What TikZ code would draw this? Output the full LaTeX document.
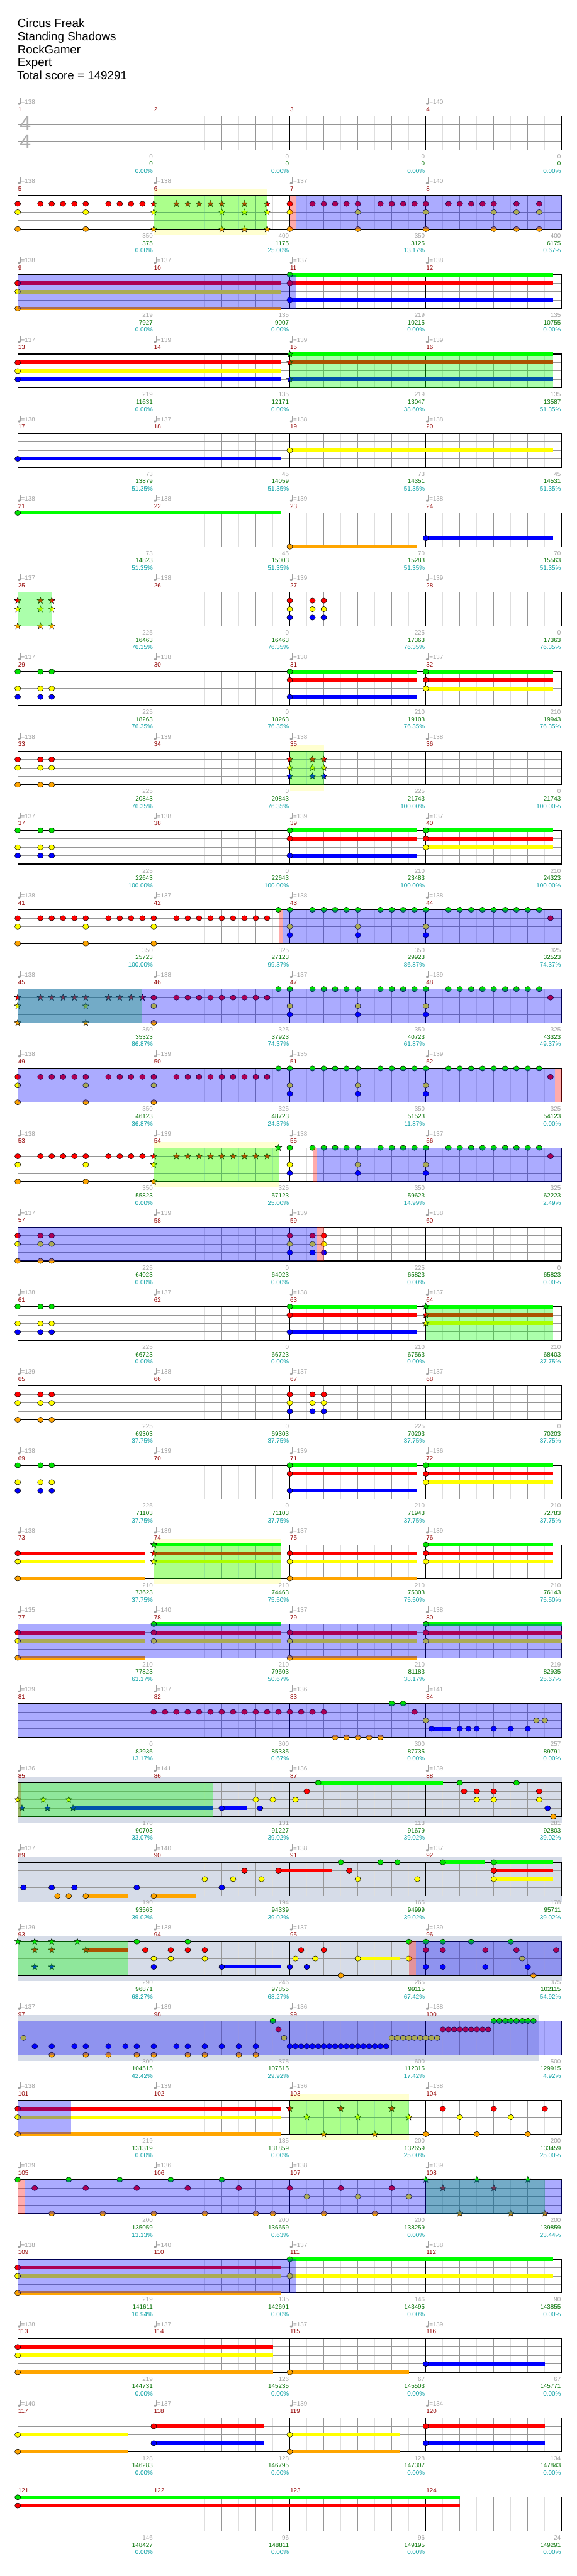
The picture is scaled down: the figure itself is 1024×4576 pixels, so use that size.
\documentclass[tikz,border=0pt]{standalone}
\usepackage{fontspec}
\setmainfont{Liberation Sans}
\usepackage{xcolor}
\usepackage{tikz}

\definecolor{gemG}{RGB}{0,225,0}
\definecolor{susG}{RGB}{0,255,0}
\definecolor{gemR}{RGB}{255,0,0}
\definecolor{gemY}{RGB}{255,255,0}
\definecolor{gemB}{RGB}{0,0,255}
\definecolor{gemO}{RGB}{255,165,0}
\definecolor{spGreen}{RGB}{0,255,0}
\definecolor{odBlue}{RGB}{0,0,255}
\definecolor{paleYel}{RGB}{255,255,208}
\definecolor{slate}{RGB}{214,220,232}
\definecolor{lblGray}{RGB}{160,160,160}
\definecolor{lblGreen}{RGB}{0,110,0}
\definecolor{lblTeal}{RGB}{0,155,160}
\definecolor{msrRed}{RGB}{145,0,0}
\definecolor{beatGray}{RGB}{150,150,150}
\definecolor{eighthGray}{RGB}{222,222,222}

% gems, star gems, sustains and shaded zones, all in beat/lane units of a row
\newcommand{\gems}[3]{\foreach \bt in {#3}{\filldraw[fill=#1, gem] (\bt,#2) ellipse[x radius=5.2pt, y radius=4.6pt];}}
\newcommand{\stars}[3]{\foreach \bt in {#3}{\filldraw[fill=#1, gem] (\bt,#2) +(90:6pt) -- +(126:2.6pt) -- +(162:6pt) -- +(198:2.6pt) -- +(234:6pt) -- +(270:2.6pt) -- +(306:6pt) -- +(342:2.6pt) -- +(18:6pt) -- +(54:2.6pt) -- cycle;}}
\newcommand{\sus}[3]{\foreach \s/\e in {#3}{\fill[#1] (\s,#2-0.22) rectangle (\e,#2+0.22);}}
\newcommand{\zone}[3]{\fill[#1] (#2,0) rectangle (#3,4);}
\newcommand{\band}[4]{\begin{scope}[rowat=#1]\fill[#2] (#3,-0.7) rectangle (#4,4.7);\end{scope}}

\begin{document}
\begin{tikzpicture}[x=1pt, y=-1pt,
  gem/.style={draw=black, line width=0.55pt},
  gridEighth/.style={draw=eighthGray, line width=0.9pt},
  gridBeat/.style={draw=beatGray, line width=0.9pt},
  msrLine/.style={draw=black, line width=0.9pt},
  staffFrame/.style={draw=black, line width=1.3pt},
  spz/.style={fill=spGreen, fill opacity=0.33},
  odz/.style={fill=odBlue, fill opacity=0.33},
  pnk/.style={fill=red, fill opacity=0.33},
  title/.style={font=\fontsize{21}{24}\selectfont, anchor=base west, inner sep=0pt},
  msr/.style={font=\fontsize{11}{13}\selectfont, text=msrRed, anchor=west, inner sep=0pt},
  tempo/.style={font=\fontsize{11}{13}\selectfont, text=lblGray, anchor=west, inner sep=0pt},
  pts/.style={font=\fontsize{11}{13}\selectfont, text=lblGray, anchor=east, inner sep=0pt},
  score/.style={font=\fontsize{11}{13}\selectfont, text=lblGreen, anchor=east, inner sep=0pt},
  pct/.style={font=\fontsize{11}{13}\selectfont, text=lblTeal, anchor=east, inner sep=0pt},
  rowat/.style={shift={(31.5pt,{-(206+141*(#1-1))*1pt})}, x=60.375pt, y=-15pt}]
\useasboundingbox (0,0) rectangle (1024,4576);
% ================= header =================
\node[title] (song) at (31,49) {Circus Freak};
\node[title] (artist) at (31,72) {Standing Shadows};
\node[title] (player) at (31,95) {RockGamer};
\node[title] (level) at (31,118) {Expert};
\node[title] (total) at (30,141) {Total score = 149291};
% ================= shaded bands =================
\band{2}{paleYel}{4}{7.333}
\band{9}{paleYel}{8}{9}
\band{14}{paleYel}{4}{7.667}
\band{19}{paleYel}{4}{7.74}
\band{22}{slate}{0}{16}
\band{23}{slate}{0}{16}
\band{24}{slate}{0}{16}
\band{25}{slate}{0}{15.31}
\band{26}{paleYel}{8}{11.5}
% ================= staves =================
\foreach \r in {1,...,31}{
\begin{scope}[rowat=\r]
\foreach \k in {0.5,1.5,...,15.5} \draw[gridEighth] (\k,0) -- (\k,4);
\foreach \k in {1,2,3,5,6,7,9,10,11,13,14,15} \draw[gridBeat] (\k,0) -- (\k,4);
\foreach \l in {1,2,3} \draw[gridBeat] (0,\l) -- (16,\l);
\foreach \k in {4,8,12} \draw[msrLine] (\k,0) -- (\k,4);
\draw[staffFrame] (0,0) rectangle (16,4);
\end{scope}}
\node[font=\fontsize{36}{36}\selectfont, text=black!32, inner sep=0pt] (ts-top) at (45,219.5) {4};
\node[font=\fontsize{36}{36}\selectfont, text=black!32, inner sep=0pt] (ts-bot) at (45,251.5) {4};
% ---- row 2: measures 5-8 ----
\begin{scope}[rowat=2]
\gems{gemR}{1}{0,0.667,1,1.333,1.667,2,2.667,3,3.333,3.667,8,8.667,9,9.333,9.667,10,10.667,11,11.333,11.667,12,12.667,13,13.333,13.667,14,14.667,15.333}
\gems{gemY}{2}{0,2,8,10,12,14,14.667,15.333}
\gems{gemO}{4}{0,2,8,10,12,14,14.667,15.333}
\stars{gemR}{1}{4,4.667,5,5.333,5.667,6,6.667,7.333}
\stars{gemY}{2}{4,6,6.667,7.333}
\stars{gemO}{4}{4,6,6.667,7.333}
\zone{spz}{4}{7.333} \zone{pnk}{8}{8.2} \zone{odz}{8.2}{16}
\end{scope}
% ---- row 3: measures 9-12 ----
\begin{scope}[rowat=3]
\sus{gemR}{1}{0/7.74,8/15.74} \sus{gemY}{2}{0/7.74} \sus{gemO}{4}{0/7.74}
\sus{susG}{0}{8/15.74} \sus{gemB}{3}{8/15.74}
\gems{gemR}{1}{0,8} \gems{gemY}{2}{0} \gems{gemO}{4}{0} \gems{gemG}{0}{8} \gems{gemB}{3}{8}
\zone{odz}{0}{8.2}
\end{scope}
% ---- row 4: measures 13-16 ----
\begin{scope}[rowat=4]
\sus{gemR}{1}{0/7.74,8/15.74} \sus{gemY}{2}{0/7.74} \sus{gemB}{3}{0/7.74,8/15.74} \sus{susG}{0}{8/15.74}
\gems{gemR}{1}{0} \gems{gemY}{2}{0} \gems{gemB}{3}{0}
\stars{gemG}{0}{8} \stars{gemR}{1}{8} \stars{gemB}{3}{8}
\zone{spz}{8}{15.74}
\end{scope}
% ---- row 5: measures 17-20 ----
\begin{scope}[rowat=5]
\sus{gemB}{3}{0/7.74} \sus{gemY}{2}{8/15.74}
\gems{gemB}{3}{0} \gems{gemY}{2}{8}
\end{scope}
% ---- row 6: measures 21-24 ----
\begin{scope}[rowat=6]
\sus{susG}{0}{0/7.74} \sus{gemO}{4}{8/11.74} \sus{gemB}{3}{12/15.74}
\gems{gemG}{0}{0} \gems{gemO}{4}{8} \gems{gemB}{3}{12}
\end{scope}
% ---- row 7: measures 25-28 ----
\begin{scope}[rowat=7]
\stars{gemR}{1}{0,0.667,1} \stars{gemY}{2}{0,0.667,1} \stars{gemO}{4}{0,0.667,1}
\gems{gemR}{1}{8,8.667,9} \gems{gemY}{2}{8,8.667,9} \gems{gemB}{3}{8,8.667,9}
\zone{spz}{0}{1}
\end{scope}
% ---- rows 8, 10, 18: same figure ----
\foreach \r in {8,10,18}{
\begin{scope}[rowat=\r]
\sus{susG}{0}{8/11.74,12/15.74} \sus{gemR}{1}{8/11.74,12/15.74} \sus{gemB}{3}{8/11.74} \sus{gemY}{2}{12/15.74}
\gems{gemG}{0}{0,0.667,1,8,12} \gems{gemY}{2}{0,0.667,1,12} \gems{gemB}{3}{0,0.667,1,8} \gems{gemR}{1}{8,12}
\end{scope}}
% ---- row 9: measures 33-36 ----
\begin{scope}[rowat=9]
\gems{gemR}{1}{0,0.667,1} \gems{gemY}{2}{0,0.667,1} \gems{gemO}{4}{0,0.667,1}
\stars{gemR}{1}{8,8.667,9} \stars{gemY}{2}{8,8.667,9} \stars{gemB}{3}{8,8.667,9}
\zone{spz}{8}{9}
\end{scope}
% ---- rows 11 and 13: measures 41-44, 49-52 ----
\foreach \r in {11,13}{
\begin{scope}[rowat=\r]
\gems{gemR}{1}{0,0.667,1,1.333,1.667,2,2.667,3,3.333,3.667,4,4.667,5,5.333,5.667,6,6.333,6.667,7,7.333,15.667}
\gems{gemY}{2}{0,2,4,8,10,12} \gems{gemO}{4}{0,2,4} \gems{gemB}{3}{8,10,12}
\gems{gemG}{0}{7.667,8,8.667,9,9.333,9.667,10,10.667,11,11.333,11.667,12,12.667,13,13.333,13.667,14,14.333,14.667,15,15.333}
\end{scope}}
\begin{scope}[rowat=11] \zone{pnk}{7.667}{7.8} \zone{odz}{7.8}{16} \end{scope}
\begin{scope}[rowat=13] \zone{odz}{0}{15.8} \zone{pnk}{15.8}{16} \end{scope}
% ---- row 12: measures 45-48 ----
\begin{scope}[rowat=12]
\stars{gemR}{1}{0,0.667,1,1.333,1.667,2,2.667,3,3.333,3.667} \stars{gemY}{2}{0,2} \stars{gemO}{4}{0,2}
\gems{gemR}{1}{4,4.667,5,5.333,5.667,6,6.333,6.667,7,7.333,15.667}
\gems{gemY}{2}{4,8,10,12} \gems{gemO}{4}{4} \gems{gemB}{3}{8,10,12}
\gems{gemG}{0}{7.667,8,8.667,9,9.333,9.667,10,10.667,11,11.333,11.667,12,12.667,13,13.333,13.667,14,14.333,14.667,15,15.333}
\zone{spz}{0}{3.667} \zone{odz}{0}{16}
\end{scope}
% ---- row 14: measures 53-56 ----
\begin{scope}[rowat=14]
\gems{gemR}{1}{0,0.667,1,1.333,1.667,2,2.667,3,3.333,3.667,15.667}
\gems{gemY}{2}{0,2,8,10,12} \gems{gemO}{4}{0,2} \gems{gemB}{3}{8,10,12}
\stars{gemR}{1}{4,4.667,5,5.333,5.667,6,6.333,6.667,7,7.333} \stars{gemY}{2}{4} \stars{gemO}{4}{4} \stars{gemG}{0}{7.667}
\gems{gemG}{0}{8,8.667,9,9.333,9.667,10,10.667,11,11.333,11.667,12,12.667,13,13.333,13.667,14,14.333,14.667,15,15.333}
\zone{spz}{4}{7.667} \zone{pnk}{8.667}{8.8} \zone{odz}{8.8}{16}
\end{scope}
% ---- row 15: measures 57-60 ----
\begin{scope}[rowat=15]
\gems{gemR}{1}{0,0.667,1,8,8.667,9} \gems{gemY}{2}{0,0.667,1,8,8.667,9}
\gems{gemO}{4}{0,0.667,1} \gems{gemB}{3}{8,8.667,9}
\zone{odz}{0}{8.78} \zone{pnk}{8.78}{9}
\end{scope}
% ---- row 16: measures 61-64 ----
\begin{scope}[rowat=16]
\sus{susG}{0}{8/11.74,12/15.74} \sus{gemR}{1}{8/11.74,12/15.74} \sus{gemB}{3}{8/11.74} \sus{gemY}{2}{12/15.74}
\gems{gemG}{0}{0,0.667,1,8} \gems{gemY}{2}{0,0.667,1} \gems{gemB}{3}{0,0.667,1,8} \gems{gemR}{1}{8}
\stars{gemG}{0}{12} \stars{gemR}{1}{12} \stars{gemY}{2}{12}
\zone{spz}{12}{15.74}
\end{scope}
% ---- row 17: measures 65-68 ----
\begin{scope}[rowat=17]
\gems{gemR}{1}{0,0.667,1,8,8.667,9} \gems{gemY}{2}{0,0.667,1,8,8.667,9}
\gems{gemO}{4}{0,0.667,1} \gems{gemB}{3}{8,8.667,9}
\end{scope}
% ---- row 19: measures 73-76 ----
\begin{scope}[rowat=19]
\sus{gemR}{1}{0/3.74,4/7.74,8/11.74,12/15.74} \sus{gemY}{2}{0/3.74,4/7.74,8/11.74,12/15.74}
\sus{gemO}{4}{0/3.74,8/11.74} \sus{susG}{0}{4/7.74,12/15.74}
\gems{gemR}{1}{0,8,12} \gems{gemY}{2}{0,8,12} \gems{gemO}{4}{0,8} \gems{gemG}{0}{12}
\stars{gemG}{0}{4} \stars{gemR}{1}{4} \stars{gemY}{2}{4}
\zone{spz}{4}{7.74}
\end{scope}
% ---- row 20: measures 77-80 ----
\begin{scope}[rowat=20]
\sus{gemR}{1}{0/3.74,4/7.74,8/11.74,12/16} \sus{gemY}{2}{0/3.74,4/7.74,8/11.74,12/16}
\sus{gemO}{4}{0/3.74,8/11.74} \sus{susG}{0}{4/7.74,12/16}
\gems{gemR}{1}{0,4,8,12} \gems{gemY}{2}{0,4,8,12} \gems{gemO}{4}{0,8} \gems{gemG}{0}{4,12}
\zone{odz}{0}{16}
\end{scope}
% ---- row 21: measures 81-84 ----
\begin{scope}[rowat=21]
\gems{gemR}{1}{4,4.3333,...,9.1} \gems{gemR}{1}{11.667}
\gems{gemO}{4}{9.333,9.667,10,10.333,10.667}
\gems{gemG}{0}{11,11.333}
\gems{gemY}{2}{12,15.25,15.5}
\sus{gemB}{3}{12.167/12.73}
\gems{gemB}{3}{12.167,13,13.25,13.5,14,14.5,15}
\zone{odz}{0}{16}
\end{scope}
% ---- row 22: measures 85-88 ----
\begin{scope}[rowat=22]
\sus{gemB}{3}{1.625/5.75,6/6.75} \sus{susG}{0}{8.833/12.5}
\stars{gemY}{2}{0,0.75,1.5} \stars{gemB}{3}{0.125,0.875,1.625}
\gems{gemB}{3}{6,7.125,15.583}
\gems{gemY}{2}{7,7.5,8.167,13.5,14,15.333}
\gems{gemR}{1}{8.5,13.125,13.5,14,15.333}
\gems{gemG}{0}{8.833,13,14.667}
\gems{gemO}{4}{15.75}
\zone{pnk}{0}{0.1} \zone{spz}{0}{5.75}
\end{scope}
% ---- row 23: measures 89-92 ----
\begin{scope}[rowat=23]
\sus{gemO}{4}{2/3.24,4/5.25} \sus{gemR}{1}{7.667/9.24,14/15.74}
\sus{susG}{0}{12.5/13.75,14/15.74} \sus{gemY}{2}{14/15.74}
\gems{gemB}{3}{0.167,1,1.667,3.5,6}
\gems{gemO}{4}{1.167,1.5,2,4}
\gems{gemY}{2}{5.5,6.333,7.167,10,11.75,14}
\gems{gemR}{1}{6.667,7.667,9.75,14}
\gems{gemG}{0}{9.5,10.667,11.167,12.5,14}
\end{scope}
% ---- row 24: measures 93-96 ----
\begin{scope}[rowat=24]
\sus{gemR}{1}{2/3.24} \sus{gemB}{3}{6/7.73} \sus{gemY}{2}{10/11.24}
\stars{gemG}{0}{0,0.5,1,1.75} \stars{gemR}{1}{0.5,1,2} \stars{gemB}{3}{0.5,1}
\gems{gemG}{0}{3.5,5,11.5,12,12.5,13.333,14.5}
\gems{gemR}{1}{3.75,4.5,5,5.5,8.333,9,12,12.5,13.75,14.667,15.833}
\gems{gemY}{2}{4,4.5,5.5,8.167,8.75,10,11.5,14.833}
\gems{gemB}{3}{4,6,8,8.5,12,12.5,13.75,15}
\gems{gemO}{4}{9.5,15.167}
\zone{spz}{0}{3.24} \zone{pnk}{11.5}{11.71} \zone{odz}{11.71}{16}
\end{scope}
% ---- row 25: measures 97-100 ----
\begin{scope}[rowat=25]
\gems{gemY}{2}{0.167,7.833} \gems{gemY}{2}{11,11.1667,...,12.4}
\gems{gemB}{3}{0.5,1,1.667,2,2.667,3.167,3.5,4,4.667,5,5.5,6,6.5,7} \gems{gemB}{3}{8,8.1667,...,10.9}
\gems{gemO}{4}{1,2,2.667,3.5,4,5,5.5,6.5,7}
\gems{gemG}{0}{7.5} \gems{gemG}{0}{14,14.1667,...,15.2}
\gems{gemR}{1}{7.667} \gems{gemR}{1}{12.5,12.6667,...,13.9}
\zone{odz}{0}{16}
\end{scope}
% ---- row 26: measures 101-104 ----
\begin{scope}[rowat=26]
\sus{gemR}{1}{0/7.74} \sus{gemY}{2}{0/7.74} \sus{gemO}{4}{0/7.74}
\gems{gemR}{1}{0,12.5,14,15.5} \gems{gemY}{2}{0,13,14.5} \gems{gemO}{4}{0,12,13.5,15}
\stars{gemR}{1}{8,9.5,11} \stars{gemY}{2}{8.5,10,11.5} \stars{gemO}{4}{9,10.5}
\zone{odz}{0}{1.56} \zone{spz}{8}{11.5}
\end{scope}
% ---- row 27: measures 105-108 ----
\begin{scope}[rowat=27]
\gems{gemG}{0}{0,1.5,3,4.5,6}
\gems{gemR}{1}{0.5,2,3.5,5,6.5,8,9.5,11}
\gems{gemO}{4}{1,2.5,4,5.5,7,7.5,9,10.5}
\gems{gemY}{2}{8.5,10,11.5}
\stars{gemG}{0}{12,13.5,15} \stars{gemR}{1}{12.5,14} \stars{gemO}{4}{13,14.5,15.5}
\zone{spz}{12}{15.5} \zone{pnk}{0}{0.2} \zone{odz}{0.2}{16}
\end{scope}
% ---- row 28: measures 109-112 ----
\begin{scope}[rowat=28]
\sus{gemR}{1}{0/7.74} \sus{gemY}{2}{0/7.74,8/15.74} \sus{gemO}{4}{0/7.74} \sus{susG}{0}{8/15.74}
\gems{gemR}{1}{0} \gems{gemY}{2}{0,8} \gems{gemO}{4}{0} \gems{gemG}{0}{8}
\zone{odz}{0}{8.2}
\end{scope}
% ---- row 29: measures 113-116 ----
\begin{scope}[rowat=29]
\sus{gemR}{1}{0/7.5} \sus{gemY}{2}{0/7.5} \sus{gemO}{4}{0/7.5,8/11.5} \sus{gemB}{3}{12/15.5}
\gems{gemR}{1}{0} \gems{gemY}{2}{0} \gems{gemO}{4}{0,8} \gems{gemB}{3}{12}
\end{scope}
% ---- row 30: measures 117-120 ----
\begin{scope}[rowat=30]
\sus{gemY}{2}{0/3.24,8/11.24} \sus{gemO}{4}{0/3.24,8/11.24}
\sus{gemR}{1}{4/7.25,12/15.5} \sus{gemB}{3}{4/7.25,12/15.5}
\gems{gemY}{2}{0,8} \gems{gemO}{4}{0,8} \gems{gemR}{1}{4,12} \gems{gemB}{3}{4,12}
\end{scope}
% ---- row 31: measures 121-124 ----
\begin{scope}[rowat=31]
\sus{susG}{0}{0/13} \sus{gemR}{1}{0/13}
\gems{gemG}{0}{0} \gems{gemR}{1}{0}
\end{scope}
% ================= measure numbers =================
\foreach \m in {1,...,124}{
  \pgfmathtruncatemacro\rr{div(\m-1,4)}
  \pgfmathtruncatemacro\cc{mod(\m-1,4)}
  \node[msr] (ms-\m) at ({32+\cc*241.5},{194+141*\rr}) {\m};}
% ================= tempo marks =================
\foreach \m/\t in {1/138,4/140,5/138,6/138,7/137,8/140,9/138,10/137,11/137,12/138,
  13/137,14/139,15/139,16/139,17/138,18/137,19/138,20/138,21/138,22/138,23/139,24/138,
  25/137,26/138,27/139,28/139,29/137,30/138,31/138,32/137,33/138,34/139,35/138,36/138,
  37/137,38/138,39/139,40/137,41/138,42/137,43/138,44/138,45/138,46/138,47/137,48/139,
  49/138,50/139,51/135,52/139,53/138,54/139,55/138,56/137,57/137,58/139,59/139,60/138,
  61/138,62/137,63/138,64/137,65/139,66/138,67/137,68/137,69/138,70/139,71/139,72/136,
  73/138,74/139,75/137,76/139,77/135,78/140,79/137,80/138,81/139,82/137,83/136,84/141,
  85/136,86/141,87/136,88/139,89/137,90/140,91/138,92/137,93/139,94/138,95/137,96/139,
  97/137,98/139,99/136,100/138,101/138,102/139,103/136,104/138,105/139,106/136,107/138,108/139,
  109/138,110/140,111/137,112/138,113/138,114/137,115/137,116/139,117/140,118/137,119/139,120/134}{
  \pgfmathtruncatemacro\rr{div(\m-1,4)}
  \pgfmathtruncatemacro\cc{mod(\m-1,4)}
  \fill[lblGray] ({34+\cc*241.5},{184.5+141*\rr}) ellipse[x radius=2.4pt, y radius=1.8pt];
  \draw[lblGray, line width=0.8pt] ({36.1+\cc*241.5},{184.5+141*\rr}) -- ({36.1+\cc*241.5},{174+141*\rr});
  \node[tempo] (tp-\m) at ({37.5+\cc*241.5},{181+141*\rr}) {=\t};}
% ================= measure scores =================
\foreach \m/\g/\s/\p in {1/0/0/0.00,2/0/0/0.00,3/0/0/0.00,4/0/0/0.00,
  5/350/375/0.00,6/400/1175/25.00,7/350/3125/13.17,8/400/6175/0.67,
  9/219/7927/0.00,10/135/9007/0.00,11/219/10215/0.00,12/135/10755/0.00,
  13/219/11631/0.00,14/135/12171/0.00,15/219/13047/38.60,16/135/13587/51.35,
  17/73/13879/51.35,18/45/14059/51.35,19/73/14351/51.35,20/45/14531/51.35,
  21/73/14823/51.35,22/45/15003/51.35,23/70/15283/51.35,24/70/15563/51.35,
  25/225/16463/76.35,26/0/16463/76.35,27/225/17363/76.35,28/0/17363/76.35,
  29/225/18263/76.35,30/0/18263/76.35,31/210/19103/76.35,32/210/19943/76.35,
  33/225/20843/76.35,34/0/20843/76.35,35/225/21743/100.00,36/0/21743/100.00,
  37/225/22643/100.00,38/0/22643/100.00,39/210/23483/100.00,40/210/24323/100.00,
  41/350/25723/100.00,42/325/27123/99.37,43/350/29923/86.87,44/325/32523/74.37,
  45/350/35323/86.87,46/325/37923/74.37,47/350/40723/61.87,48/325/43323/49.37,
  49/350/46123/36.87,50/325/48723/24.37,51/350/51523/11.87,52/325/54123/0.00,
  53/350/55823/0.00,54/325/57123/25.00,55/350/59623/14.99,56/325/62223/2.49,
  57/225/64023/0.00,58/0/64023/0.00,59/225/65823/0.00,60/0/65823/0.00,
  61/225/66723/0.00,62/0/66723/0.00,63/210/67563/0.00,64/210/68403/37.75,
  65/225/69303/37.75,66/0/69303/37.75,67/225/70203/37.75,68/0/70203/37.75,
  69/225/71103/37.75,70/0/71103/37.75,71/210/71943/37.75,72/210/72783/37.75,
  73/210/73623/37.75,74/210/74463/75.50,75/210/75303/75.50,76/210/76143/75.50,
  77/210/77823/63.17,78/210/79503/50.67,79/210/81183/38.17,80/219/82935/25.67,
  81/0/82935/13.17,82/300/85335/0.67,83/300/87735/0.00,84/257/89791/0.00,
  85/178/90703/33.07,86/131/91227/39.02,87/113/91679/39.02,88/281/92803/39.02,
  89/190/93563/39.02,90/194/94339/39.02,91/165/94999/39.02,92/178/95711/39.02,
  93/290/96871/68.27,94/246/97855/68.27,95/265/99115/67.42,96/375/102115/54.92,
  97/300/104515/42.42,98/375/107515/29.92,99/600/112315/17.42,100/500/129915/4.92,
  101/219/131319/0.00,102/135/131859/0.00,103/200/132659/25.00,104/200/133459/25.00,
  105/200/135059/13.13,106/200/136659/0.63,107/200/138259/0.00,108/200/139859/23.44,
  109/219/141611/10.94,110/135/142691/0.00,111/146/143495/0.00,112/90/143855/0.00,
  113/219/144731/0.00,114/126/145235/0.00,115/67/145503/0.00,116/67/145771/0.00,
  117/128/146283/0.00,118/128/146795/0.00,119/128/147307/0.00,120/134/147843/0.00,
  121/146/148427/0.00,122/96/148811/0.00,123/96/149195/0.00,124/24/149291/0.00}{
  \pgfmathtruncatemacro\rr{div(\m-1,4)}
  \pgfmathtruncatemacro\cc{mod(\m-1,4)}
  \node[pts] (pts-\m) at ({271.5+\cc*241.5},{278+141*\rr}) {\g};
  \node[score] (sc-\m) at ({271.5+\cc*241.5},{291+141*\rr}) {\s};
  \node[pct] (pc-\m) at ({271.5+\cc*241.5},{304+141*\rr}) {\p\%};}
\end{tikzpicture}
\end{document}
